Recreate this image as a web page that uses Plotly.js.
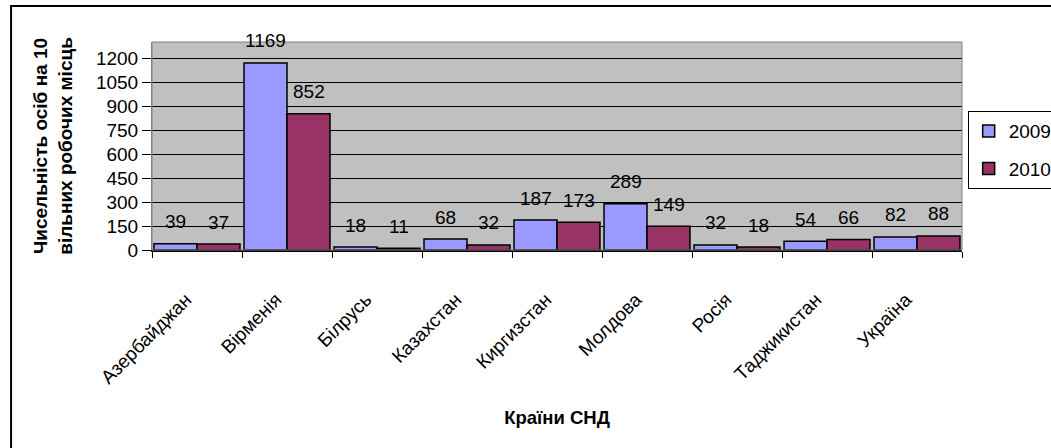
<!DOCTYPE html>
<html>
<head>
<meta charset="utf-8">
<script src="https://cdn.plot.ly/plotly-3.0.1.min.js"></script>
<style>
  html, body { margin: 0; padding: 0; background: #ffffff; }
  #chart { width: 1051px; height: 448px; }
</style>
</head>
<body>
<div id="chart"></div>
<script>
const categories = ["Азербайджан", "Вірменія", "Білрусь", "Казахстан", "Киргизстан", "Молдова", "Росія", "Таджикистан", "Україна"];
const values2009 = [39, 1169, 18, 68, 187, 289, 32, 54, 82];
const values2010 = [37, 852, 11, 32, 173, 149, 18, 66, 88];
const seriesNames = ["2009", "2010"];
const yTicks = [0, 150, 300, 450, 600, 750, 900, 1050, 1200];

const FONT = "Liberation Sans, Arial, sans-serif";
const BLUE = "#9999FF";
const PLUM = "#993366";

const traces = [
  {
    type: "bar", name: seriesNames[0], x: categories, y: values2009,
    marker: { color: BLUE, line: { color: "#000000", width: 1.5 } },
    legendgroup: "a", hoverinfo: "x+y"
  },
  {
    type: "bar", name: seriesNames[1], x: categories, y: values2010,
    marker: { color: PLUM, line: { color: "#000000", width: 1.5 } },
    legendgroup: "b", hoverinfo: "x+y"
  }
];

const annotations = [];
[values2009, values2010].forEach((vals, s) => {
  vals.forEach((v, i) => {
    annotations.push({
      x: categories[i], y: v, xref: "x", yref: "y",
      text: String(v), showarrow: false,
      xshift: s === 0 ? -21.5 : 21.5, yshift: 22,
      yanchor: "middle", xanchor: "center",
      font: { family: FONT, size: 19, color: "#000000" }
    });
  });
});

const layout = {
  width: 1051, height: 448,
  margin: { l: 152, r: 89, t: 42, b: 198, autoexpand: false },
  paper_bgcolor: "#ffffff",
  plot_bgcolor: "#C0C0C0",
  font: { family: FONT, size: 19, color: "#000000" },
  barmode: "group",
  bargap: 0.045,
  bargroupgap: 0,
  showlegend: true,
  legend: {
    x: 1.007, y: 0.668, xanchor: "left", yanchor: "top",
    bgcolor: "#ffffff", bordercolor: "#000000", borderwidth: 1,
    font: { family: FONT, size: 19, color: "#000000" },
    tracegroupgap: 10
  },
  xaxis: {
    type: "category",
    tickangle: -45,
    tickson: "boundaries",
    ticks: "outside", ticklen: 6, tickcolor: "#000000", tickwidth: 1,
    showline: true, linecolor: "#000000", linewidth: 2,
    showgrid: false, zeroline: false,
    tickfont: { family: FONT, size: 19, color: "#000000" },
    ticklabelstandoff: 29,
    ticklabelshift: -11,
    title: { text: "<b>Країни СНД</b>", font: { family: FONT, size: 18.5, color: "#000000" }, standoff: 24 },
    automargin: false
  },
  yaxis: {
    range: [0, 1300],
    tickvals: yTicks,
    ticktext: yTicks.map(String),
    ticks: "outside", ticklen: 9, tickcolor: "#000000", tickwidth: 1,
    showgrid: true, gridcolor: "#000000", gridwidth: 1,
    showline: true, linecolor: "#808080", linewidth: 1,
    zeroline: false,
    tickfont: { family: FONT, size: 19, color: "#000000" },
    title: { text: "<b>Чисельність осіб на 10<br>вільних робочих місць</b>", font: { family: FONT, size: 19, color: "#000000" }, standoff: 18 },
    automargin: false
  },
  annotations: annotations,
  shapes: [
    { type: "rect", xref: "paper", yref: "paper", x0: 0, x1: 1, y0: 0, y1: 1,
      line: { color: "#808080", width: 1 }, fillcolor: "rgba(0,0,0,0)", layer: "above" },
    { type: "rect", xref: "paper", yref: "paper", x0: -0.174, x1: 1.125, y0: -0.99, y1: 1.173,
      line: { color: "#000000", width: 2 }, fillcolor: "rgba(0,0,0,0)", layer: "above" }
  ]
};

Plotly.newPlot("chart", traces, layout, { displayModeBar: false, staticPlot: true });
</script>
</body>
</html>
